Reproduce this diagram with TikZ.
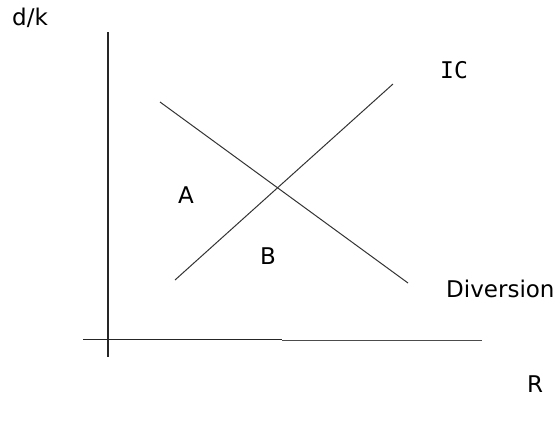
\documentclass[tikz,border=0pt]{standalone}
\usepackage{fontspec}
\setmainfont{DejaVu Sans}
\newfontfamily\icfont{DejaVu Sans Mono}
\begin{document}
\begin{tikzpicture}[x=1pt,y=-1pt,
  lbl/.style={inner sep=0pt,anchor=base west,font=\fontsize{23}{27}\selectfont},
  axis/.style={line width=1.3pt,black!85},
  curve/.style={line width=1pt,black!80}]
\useasboundingbox (0,0) rectangle (560,423);
% axes
\coordinate (ytop) at (108,32);
\coordinate (ybot) at (108,357);
\coordinate (xl) at (83,339.5);
\coordinate (xm) at (282,339.5);
\coordinate (xm2) at (282,340.5);
\coordinate (xr) at (482,340.5);
\draw[axis] (ytop) -- (ybot);
\draw[axis] (xl) -- (xm);
\draw[axis,black!70] (xm2) -- (xr);
% curves
\coordinate (ic1) at (175,280);
\coordinate (ic2) at (393,84);
\coordinate (dv1) at (160,102);
\coordinate (dv2) at (408,283);
\draw[curve] (ic1) -- (ic2);
\draw[curve] (dv1) -- (dv2);
% labels
\node[lbl] (dk) at (12,25) {d/k};
\node[lbl] (ic) at (440,78) {\icfont IC};
\node[lbl] (a) at (178,203) {A};
\node[lbl] (b) at (260,264) {B};
\node[lbl] (div) at (446,297) {Diversion};
\node[lbl] (r) at (527,392) {R};
\end{tikzpicture}
\end{document}
